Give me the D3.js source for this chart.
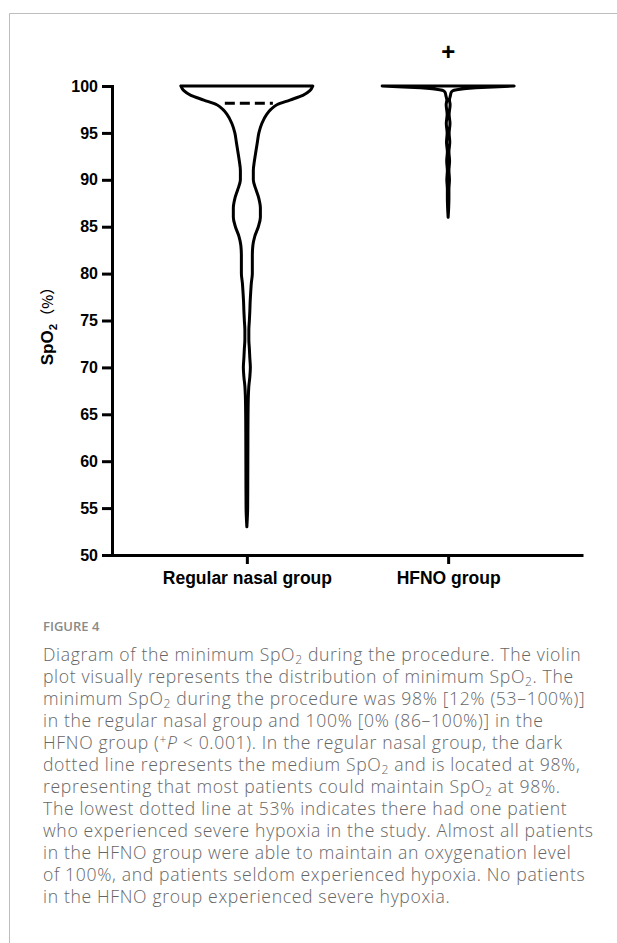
<!DOCTYPE html>
<html><head><meta charset="utf-8">
<script src="https://cdn.jsdelivr.net/npm/d3@7"></script>
<style>body{margin:0;background:#fff} svg{display:block}</style>
</head><body><svg id="c" width="617" height="943"></svg>
<script>
// ---------- data ----------
const categories = ["Regular nasal group", "HFNO group"];
const yTicks = [50, 55, 60, 65, 70, 75, 80, 85, 90, 95, 100];
const yDomain = [50, 100];

// violin profile: SpO2 level and relative width (kernel density, max = 1)
const regularSpO2 = [100,99.5,99,98.5,98,97.5,97,96,95,94,93,92,91,90,89,88,87,86,85,84,83,82,81,80,79,78,77,76,75,74,73,72,71,70,69,68,67,65,60,55,53];
const regularDensity = [1,.955,.848,.652,.455,.364,.303,.227,.182,.159,.136,.114,.098,.098,.136,.182,.205,.205,.174,.121,.091,.083,.083,.083,.068,.058,.05,.045,.038,.03,.03,.038,.045,.053,.045,.03,.023,.018,.015,.012,0];
const hfnoSpO2 = [100,99.9,99.8,99.7,99.6,99.5,99.3,99,98.5,98,97,96,95,94,93,92,91,90,89,88,87,86];
const hfnoDensity = [1,.68,.42,.24,.13,.07,.045,.035,.02,.03,.015,.028,.015,.025,.012,.022,.012,.02,.012,.012,.008,0];
const medians = [98, 100];
const significance = ["", "+"];

const captionTitle = "FIGURE 4";
const captionLines = [
  "Diagram of the minimum SpO~2~ during the procedure. The violin",
  "plot visually represents the distribution of minimum SpO~2~. The",
  "minimum SpO~2~ during the procedure was 98% [12% (53–100%)]",
  "in the regular nasal group and 100% [0% (86–100%)] in the",
  "HFNO group (^+^*P* < 0.001). In the regular nasal group, the dark",
  "dotted line represents the medium SpO~2~ and is located at 98%,",
  "representing that most patients could maintain SpO~2~ at 98%.",
  "The lowest dotted line at 53% indicates there had one patient",
  "who experienced severe hypoxia in the study. Almost all patients",
  "in the HFNO group were able to maintain an oxygenation level",
  "of 100%, and patients seldom experienced hypoxia. No patients",
  "in the HFNO group experienced severe hypoxia."
];

// ---------- layout ----------
const svg = d3.select("#c");
const W = 617, H = 943;
const plot = {left: 112, right: 583, top: 86, bottom: 555};

svg.append("path").attr("d", `M${W},13.5H9.5V${H}`)
  .attr("fill", "none").attr("stroke", "#bdbdbd").attr("stroke-width", 1);

const y = d3.scaleLinear().domain(yDomain).range([plot.bottom, plot.top]);
const x = d3.scalePoint().domain(categories).range([plot.left, plot.right]).padding(0.67);
const w = d3.scaleLinear().domain([0, 1]).range([0, 66]);

const axisFont = "'Liberation Sans', Arial, sans-serif";

// y axis
const gy = svg.append("g").attr("transform", `translate(${plot.left},0)`)
  .call(d3.axisLeft(y).tickValues(yTicks).tickSize(10).tickSizeOuter(0).tickPadding(4));
gy.select(".domain").attr("stroke-width", 3).attr("stroke-linecap", "square");
gy.selectAll(".tick line").attr("stroke-width", 3);
gy.selectAll(".tick text").attr("font-family", axisFont).attr("font-weight", "bold")
  .attr("font-size", 16).attr("fill", "#000");

// x axis
const gx = svg.append("g").attr("transform", `translate(0,${plot.bottom})`)
  .call(d3.axisBottom(x).tickSize(9).tickSizeOuter(0).tickPadding(8));
gx.select(".domain").attr("stroke-width", 3);
gx.selectAll(".tick line").attr("stroke-width", 3);
gx.selectAll(".tick text").attr("font-family", axisFont).attr("font-weight", "bold")
  .attr("font-size", 17.5).attr("fill", "#000");

// y label
const yl = svg.append("text").attr("transform", `translate(53,${(plot.top + plot.bottom) / 2 + 2}) rotate(-90)`)
  .attr("text-anchor", "middle").attr("font-family", axisFont).attr("font-size", 17)
  .attr("font-weight", "bold").attr("fill", "#000");
yl.append("tspan").text("SpO");
yl.append("tspan").attr("font-size", 11.5).attr("dy", 4).text("2");
yl.append("tspan").attr("dy", -4).attr("font-family", "'Noto Sans CJK SC', sans-serif")
  .attr("font-weight", 500).attr("font-size", 15).text("（%）");

// violins
const groups = [
  {cat: categories[0], v: regularSpO2, d: regularDensity},
  {cat: categories[1], v: hfnoSpO2, d: hfnoDensity}
];
groups.forEach((g, gi) => {
  const cx = x(g.cat);
  const pts = g.v.map((v, i) => ({v, d: g.d[i]}));
  const area = d3.area().curve(d3.curveMonotoneY)
    .y(p => y(p.v)).x0(p => cx - w(p.d)).x1(p => cx + w(p.d));
  svg.append("path").attr("d", area(pts))
    .attr("fill", "#fff").attr("stroke", "#000").attr("stroke-width", 3)
    .attr("stroke-linejoin", "round");
});

// median dashed line (regular group)
{
  const cx = x(categories[0]);
  const m = medians[0];
  const half = w(regularDensity[regularSpO2.indexOf(m)]);
  svg.append("line").attr("x1", cx - half + 8).attr("x2", cx + half - 4)
    .attr("y1", y(m) - 1.5).attr("y2", y(m) - 1.5)
    .attr("stroke", "#000").attr("stroke-width", 3).attr("stroke-dasharray", "10,5");
}

// significance marker
svg.append("text").attr("x", x(categories[1])).attr("y", 60).attr("text-anchor", "middle")
  .attr("font-family", axisFont).attr("font-size", 24).attr("font-weight", "bold")
  .attr("fill", "#000").text(significance[1]);

// caption
const capFont = "'Open Sans', 'Noto Sans', sans-serif";
svg.append("text").attr("x", 43).attr("y", 631).attr("font-family", capFont)
  .attr("font-size", 13).attr("font-weight", 600).attr("fill", "#8a8a8a").text(captionTitle);

captionLines.forEach((line, i) => {
  const t = svg.append("text").attr("x", 43).attr("y", 661 + i * 22)
    .attr("font-family", capFont).attr("font-size", 17.6).attr("font-weight", 300)
    .attr("letter-spacing", 0.65).attr("fill", "#666");
  const parts = line.split(/(~[^~]+~|\^[^^]+\^|\*[^*]+\*)/).filter(s => s.length);
  let shift = 0;
  parts.forEach(p => {
    const ts = t.append("tspan");
    let dy = 0;
    if (p[0] === "~") { ts.text(p.slice(1, -1)).attr("font-size", 12); dy = 3 - shift; shift = 3; }
    else if (p[0] === "^") { ts.text(p.slice(1, -1)).attr("font-size", 12); dy = -5 - shift; shift = -5; }
    else if (p[0] === "*") { ts.text(p.slice(1, -1)).attr("font-style", "italic"); dy = -shift; shift = 0; }
    else { ts.text(p); dy = -shift; shift = 0; }
    if (dy) ts.attr("dy", dy);
  });
});
</script></body></html>
